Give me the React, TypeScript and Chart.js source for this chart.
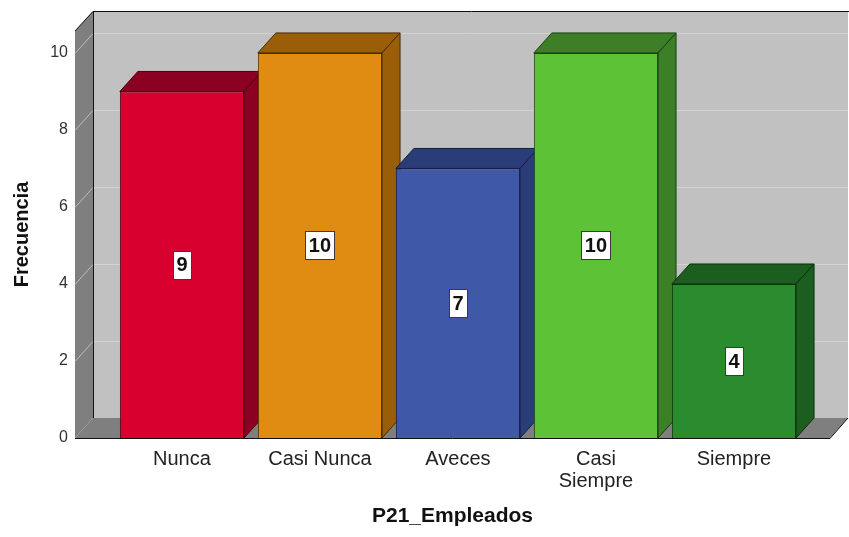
import React, { useEffect, useRef } from "react";
import { Chart, registerables } from "chart.js";

Chart.register(...registerables);

const categories: (string | string[])[] = ["Nunca", "Casi Nunca", "Aveces", ["Casi", "Siempre"], "Siempre"];
const frequencies = [9, 10, 7, 10, 4];
const yTickValues = [0, 2, 4, 6, 8, 10];
const frontColors = ["#d8002f", "#e08b12", "#3f58a8", "#5dc236", "#2a8c2f"];
const shadeColors = ["#8c0022", "#9a5d08", "#2b3d78", "#3d7f27", "#1c5e1f"];
const edgeColors = ["#4a0010", "#4a2c00", "#141d45", "#1c4010", "#0c300e"];

const FONT = "'Liberation Sans', Arial, sans-serif";
const DX = 18;
const DY = -20;

const threeD = {
  id: "threeD",
  beforeDatasetsDraw(chart: any) {
    const { ctx, chartArea } = chart;
    const { left, right, top, bottom } = chartArea;
    const yScale = chart.scales.y;
    ctx.save();
    ctx.fillStyle = "#c1c1c1";
    ctx.fillRect(left + DX, top + DY, right + DX - (left + DX), bottom - top);
    ctx.fillStyle = "#7f7f7f";
    ctx.beginPath();
    ctx.moveTo(left, top);
    ctx.lineTo(left + DX, top + DY);
    ctx.lineTo(left + DX, bottom + DY);
    ctx.lineTo(left, bottom);
    ctx.closePath();
    ctx.fill();
    ctx.beginPath();
    ctx.moveTo(left, bottom);
    ctx.lineTo(right, bottom);
    ctx.lineTo(right + DX, bottom + DY);
    ctx.lineTo(left + DX, bottom + DY);
    ctx.closePath();
    ctx.fill();
    ctx.lineWidth = 1;
    yTickValues.forEach((v) => {
      if (v === 0) return;
      const py = Math.round(yScale.getPixelForValue(v)) + 0.5;
      ctx.strokeStyle = "#d3d3d3";
      ctx.beginPath();
      ctx.moveTo(left + DX, py + DY);
      ctx.lineTo(right + DX, py + DY);
      ctx.stroke();
      ctx.strokeStyle = "#bdbdbd";
      ctx.beginPath();
      ctx.moveTo(left, py);
      ctx.lineTo(left + DX, py + DY);
      ctx.stroke();
    });
    ctx.strokeStyle = "#111";
    ctx.beginPath();
    ctx.moveTo(left, top);
    ctx.lineTo(left + DX, top + DY + 0.5);
    ctx.lineTo(right + DX + 2, top + DY + 0.5);
    ctx.stroke();
    ctx.beginPath();
    ctx.moveTo(left + DX + 0.5, top + DY);
    ctx.lineTo(left + DX + 0.5, bottom + DY);
    ctx.stroke();
    ctx.beginPath();
    ctx.moveTo(left, bottom + 0.5);
    ctx.lineTo(right, bottom + 0.5);
    ctx.lineTo(right + DX, bottom + DY);
    ctx.stroke();
    const meta = chart.getDatasetMeta(0);
    meta.data.forEach((el: any, i: number) => {
      const { x, y, base, width } = el.getProps(["x", "y", "base", "width"], true);
      const x0 = x - width / 2;
      const x1 = x + width / 2;
      ctx.fillStyle = shadeColors[i];
      ctx.strokeStyle = edgeColors[i];
      ctx.lineWidth = 1;
      ctx.beginPath();
      ctx.moveTo(x0, y);
      ctx.lineTo(x0 + DX, y + DY);
      ctx.lineTo(x1 + DX, y + DY);
      ctx.lineTo(x1, y);
      ctx.closePath();
      ctx.fill();
      ctx.stroke();
      ctx.beginPath();
      ctx.moveTo(x1, y);
      ctx.lineTo(x1 + DX, y + DY);
      ctx.lineTo(x1 + DX, base + DY);
      ctx.lineTo(x1, base);
      ctx.closePath();
      ctx.fill();
      ctx.stroke();
    });
    ctx.restore();
  },
  afterDatasetsDraw(chart: any) {
    const { ctx } = chart;
    const meta = chart.getDatasetMeta(0);
    ctx.save();
    ctx.font = `bold 20px ${FONT}`;
    ctx.textAlign = "center";
    ctx.textBaseline = "middle";
    meta.data.forEach((el: any, i: number) => {
      const { x, y, base } = el.getProps(["x", "y", "base"], true);
      const cy = (y + base) / 2;
      const label = String(frequencies[i]);
      const w = Math.round(ctx.measureText(label).width + 7);
      const h = 28;
      const bx = Math.round(x - w / 2) + 0.5;
      const by = Math.round(cy - h / 2) + 0.5;
      ctx.fillStyle = "#ffffff";
      ctx.fillRect(bx, by, w, h);
      ctx.strokeStyle = "#3a3a3a";
      ctx.lineWidth = 1;
      ctx.strokeRect(bx, by, w, h);
      ctx.fillStyle = "#111";
      ctx.fillText(label, x, cy + 1);
    });
    ctx.restore();
  },
};

export default function App() {
  const ref = useRef<HTMLCanvasElement>(null);
  useEffect(() => {
    document.body.style.margin = "0";
    const canvas = ref.current!;
    const chart = new Chart(canvas, {
      type: "bar",
      data: {
        datasets: [
          {
            data: frequencies.map((v, i) => ({ x: i, y: v })),
            backgroundColor: frontColors,
            borderColor: edgeColors,
            borderWidth: 1,
            categoryPercentage: 1,
            barPercentage: 0.9,
          },
        ],
      },
      options: {
        responsive: false,
        animation: false,
        devicePixelRatio: 1,
        layout: { padding: { top: 31, right: 19, left: 0, bottom: 0 } },
        plugins: { legend: { display: false }, tooltip: { enabled: false } },
        scales: {
          x: {
            type: "linear",
            offset: false,
            min: -0.775,
            max: 4.696,
            grid: { display: false, drawTicks: false, offset: false },
            border: { display: false },
            afterBuildTicks: (scale: any) => {
              scale.ticks = categories.map((_, i) => ({ value: i }));
            },
            afterFit: (scale: any) => {
              scale.height = 99;
            },
            ticks: {
              autoSkip: false,
              maxRotation: 0,
              padding: 10,
              color: "#222",
              font: { family: FONT, size: 20, lineHeight: 1.1 },
              callback: (v: any) => categories[Number(v)] as any,
            },
            title: {
              display: true,
              text: "P21_Empleados",
              color: "#111",
              font: { family: FONT, size: 21, weight: "bold" },
              padding: { top: 0, bottom: 8 },
            },
          },
          y: {
            min: 0,
            max: 10.57,
            grid: { display: false, drawTicks: false },
            border: { display: false },
            afterBuildTicks: (scale: any) => {
              scale.ticks = yTickValues.map((v) => ({ value: v }));
            },
            afterFit: (scale: any) => {
              scale.width = 75;
            },
            ticks: {
              padding: 7,
              color: "#333",
              font: { family: FONT, size: 16 },
            },
            title: {
              display: true,
              text: "Frecuencia",
              color: "#111",
              font: { family: FONT, size: 20, weight: "bold" },
              padding: { top: 10, bottom: 0 },
            },
          },
        },
      },
      plugins: [threeD],
    } as any);
    return () => chart.destroy();
  }, []);
  return <canvas ref={ref} width={849} height={537} style={{ display: "block" }} />;
}
